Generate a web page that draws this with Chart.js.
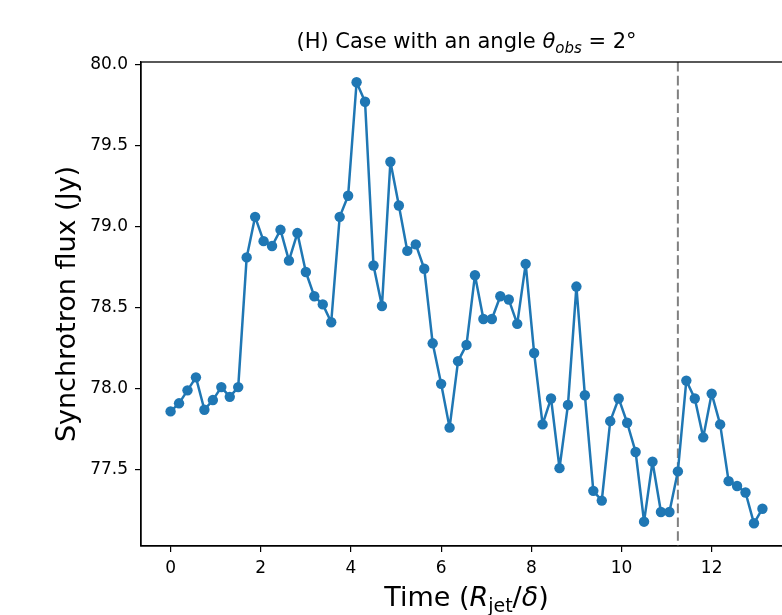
<!DOCTYPE html>
<html><head><meta charset="utf-8">
<script src="https://cdn.jsdelivr.net/npm/chart.js@4/dist/chart.umd.min.js"></script>
<style>
html,body{margin:0;padding:0;overflow:hidden;background:#fff;width:782px;height:615px}
#wrap{position:relative;width:820px;height:615px}
</style>
</head><body>
<div id="wrap"><canvas id="c" width="820" height="615"></canvas></div>
<script>
// Time in units of R_jet/delta
const times = [0, 0.1875, 0.375, 0.5625, 0.75, 0.9375, 1.125, 1.3125, 1.5, 1.6875,
  1.875, 2.0625, 2.25, 2.4375, 2.625, 2.8125, 3, 3.1875, 3.375, 3.5625,
  3.75, 3.9375, 4.125, 4.3125, 4.5, 4.6875, 4.875, 5.0625, 5.25, 5.4375,
  5.625, 5.8125, 6, 6.1875, 6.375, 6.5625, 6.75, 6.9375, 7.125, 7.3125,
  7.5, 7.6875, 7.875, 8.0625, 8.25, 8.4375, 8.625, 8.8125, 9, 9.1875,
  9.375, 9.5625, 9.75, 9.9375, 10.125, 10.3125, 10.5, 10.6875, 10.875, 11.0625,
  11.25, 11.4375, 11.625, 11.8125, 12, 12.1875, 12.375, 12.5625, 12.75, 12.9375,
  13.125];
// Synchrotron flux (Jy)
const flux = [77.86, 77.91, 77.99, 78.07, 77.87, 77.93, 78.01, 77.95, 78.01, 78.81,
  79.06, 78.91, 78.88, 78.98, 78.79, 78.96, 78.72, 78.57, 78.52, 78.41,
  79.06, 79.19, 79.89, 79.77, 78.76, 78.51, 79.40, 79.13, 78.85, 78.89,
  78.74, 78.28, 78.03, 77.76, 78.17, 78.27, 78.70, 78.43, 78.43, 78.57,
  78.55, 78.40, 78.77, 78.22, 77.78, 77.94, 77.51, 77.90, 78.63, 77.96,
  77.37, 77.31, 77.80, 77.94, 77.79, 77.61, 77.18, 77.55, 77.24, 77.24,
  77.49, 78.05, 77.94, 77.70, 77.97, 77.78, 77.43, 77.40, 77.36, 77.17,
  77.26];
const xTicks = [0, 2, 4, 6, 8, 10, 12];
const yTicks = [77.5, 78.0, 78.5, 79.0, 79.5, 80.0];
const markerTime = 11.25;

const titleParts = [
  {t: '(H) Case with an angle '},
  {t: '\u03B8', it: true},
  {t: 'obs', it: true, sub: true},
  {t: ' = 2\u00B0'}
];
const xLabelParts = [
  {t: 'Time ('},
  {t: 'R', it: true},
  {t: 'jet', sub: true},
  {t: '/'},
  {t: '\u03B4', it: true},
  {t: ')'}
];
const yLabelText = 'Synchrotron flux (Jy)';

const FAM = '"DejaVu Sans", "Liberation Sans", sans-serif';

function drawRich(ctx, parts, size, x, y, rot) {
  ctx.save();
  ctx.translate(x, y);
  if (rot) ctx.rotate(rot);
  const fontOf = p => (p.it ? 'italic ' : '') + (p.sub ? Math.round(size * 0.7) : size) + 'px ' + FAM;
  let w = 0;
  const ws = parts.map(p => { ctx.font = fontOf(p); const m = ctx.measureText(p.t).width; w += m; return m; });
  let cx = -w / 2;
  ctx.textBaseline = 'alphabetic';
  ctx.textAlign = 'left';
  ctx.fillStyle = '#000';
  parts.forEach((p, i) => {
    ctx.font = fontOf(p);
    ctx.fillText(p.t, cx, p.sub ? size * 0.22 : 0);
    cx += ws[i];
  });
  ctx.restore();
}

const deco = {
  id: 'deco',
  beforeDatasetsDraw(chart) {
    const {ctx, chartArea: a, scales: {x}} = chart;
    const px = x.getPixelForValue(markerTime);
    ctx.save();
    ctx.strokeStyle = '#808080';
    ctx.lineWidth = 2;
    ctx.setLineDash([9.6, 4.2]);
    ctx.beginPath();
    ctx.moveTo(px, a.top);
    ctx.lineTo(px, a.bottom);
    ctx.stroke();
    ctx.restore();
  },
  afterDraw(chart) {
    const {ctx, chartArea: a} = chart;
    ctx.save();
    ctx.strokeStyle = '#000';
    ctx.lineWidth = 1.3;
    ctx.strokeRect(a.left, a.top, a.right - a.left, a.bottom - a.top);
    ctx.restore();
    const cxm = (a.left + a.right) / 2;
    drawRich(ctx, titleParts, 21, cxm, 48, 0);
    drawRich(ctx, xLabelParts, 27, cxm, 606, 0);
    drawRich(ctx, [{t: yLabelText}], 27, 75, (a.top + a.bottom) / 2, -Math.PI / 2);
  }
};

new Chart(document.getElementById('c'), {
  type: 'line',
  data: {
    datasets: [{
      data: times.map((t, i) => ({x: t, y: flux[i]})),
      borderColor: '#1f77b4',
      backgroundColor: '#1f77b4',
      borderWidth: 2.5,
      borderJoinStyle: 'round',
      borderCapStyle: 'round',
      pointRadius: 5.2,
      pointHoverRadius: 5.2,
      pointBorderWidth: 0,
      tension: 0,
      clip: false
    }]
  },
  options: {
    responsive: false,
    animation: false,
    devicePixelRatio: 1,
    layout: {padding: {top: 62, right: 28, left: 0, bottom: 0}},
    plugins: {legend: {display: false}, tooltip: {enabled: false}, title: {display: false}},
    scales: {
      x: {
        type: 'linear',
        min: -0.656, max: 13.781,
        afterBuildTicks: s => { s.ticks = xTicks.map(v => ({value: v})); },
        afterFit: s => { s.height = 69; },
        grid: {display: true, drawOnChartArea: false, drawTicks: true, tickLength: 6, color: '#000', lineWidth: 1.2},
        border: {display: true, color: '#000', width: 1.3},
        ticks: {font: {family: FAM, size: 17}, color: '#000', padding: 6, maxRotation: 0,
          callback: v => String(v)}
      },
      y: {
        type: 'linear',
        min: 77.03, max: 80.015,
        afterBuildTicks: s => { s.ticks = yTicks.map(v => ({value: v})); },
        afterFit: s => { s.width = 141; },
        grid: {display: true, drawOnChartArea: false, drawTicks: true, tickLength: 6, color: '#000', lineWidth: 1.2},
        border: {display: true, color: '#000', width: 1.3},
        ticks: {font: {family: FAM, size: 17}, color: '#000', padding: 7,
          callback: v => v.toFixed(1)}
      }
    }
  },
  plugins: [deco]
});
</script>
</body></html>
